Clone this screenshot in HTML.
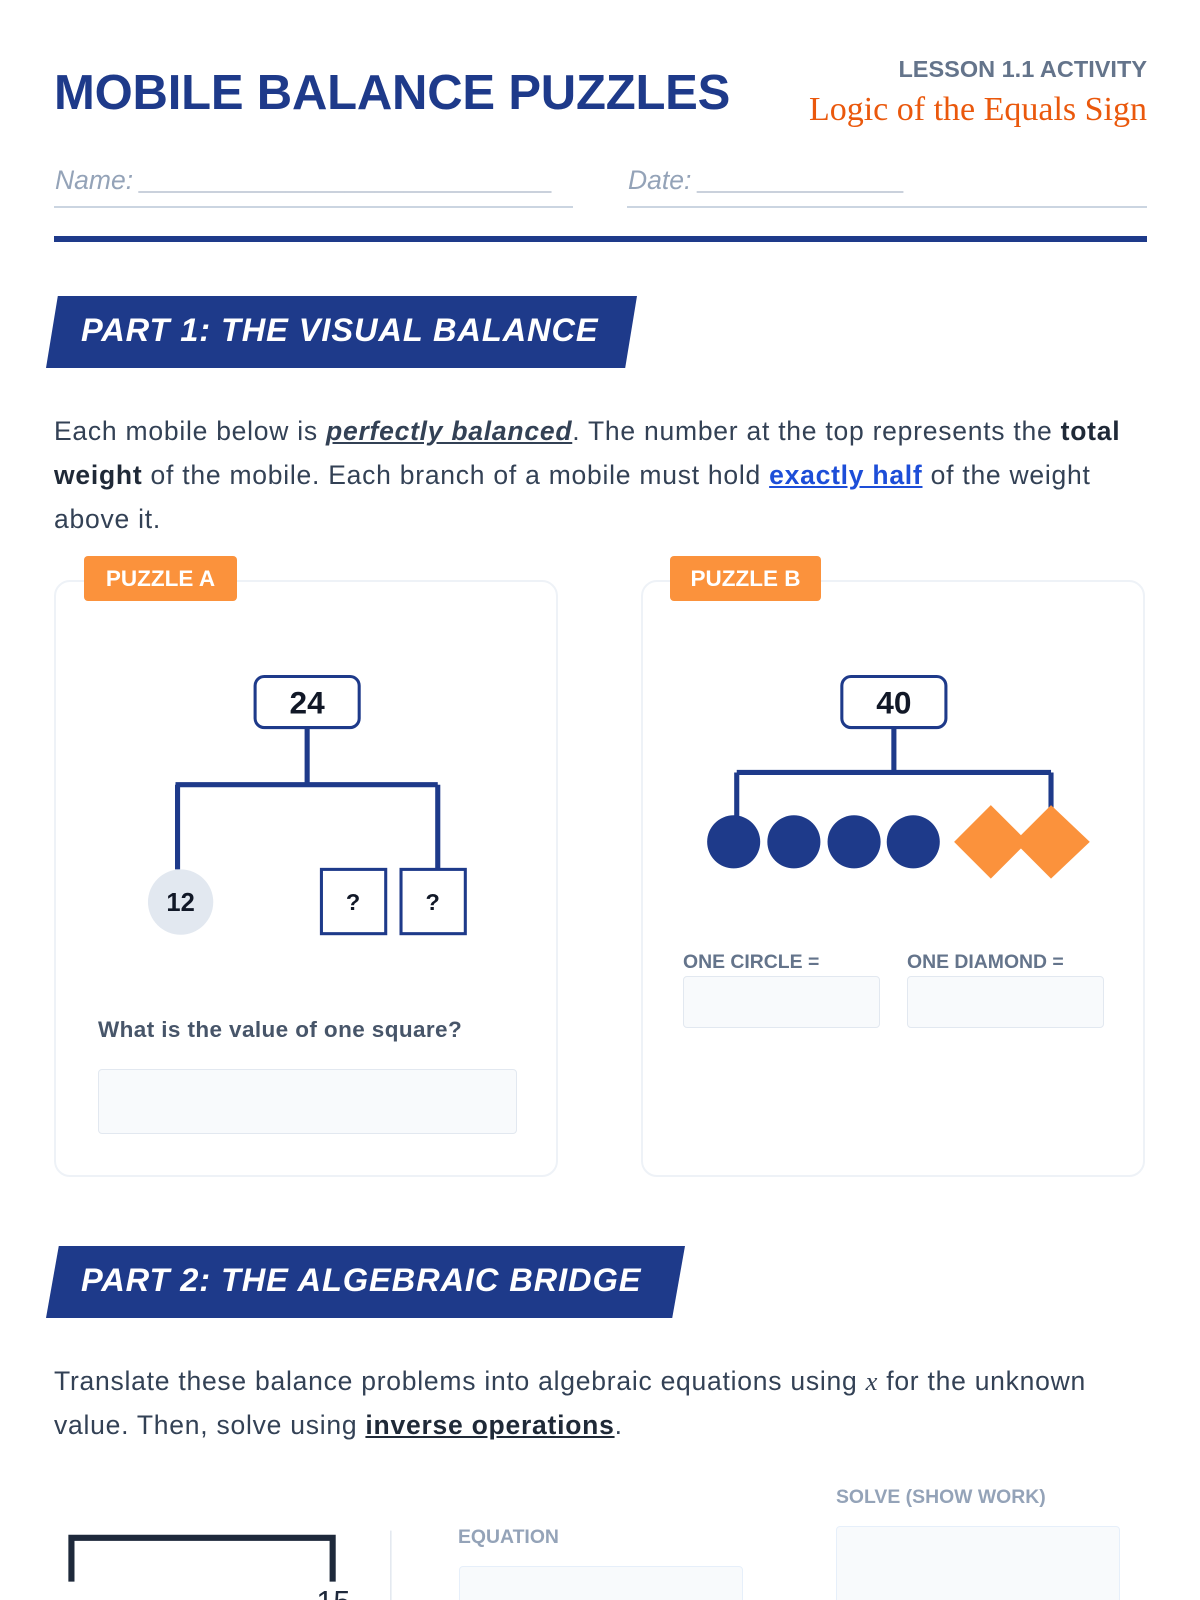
<!DOCTYPE html>
<html><head><meta charset="utf-8"><style>
html,body{margin:0;padding:0;background:#fff;width:1200px;height:1600px;overflow:hidden;position:relative;font-family:"Liberation Sans",sans-serif}
.a{position:absolute;white-space:nowrap}
.banner{position:absolute;background:#1e3a8a;clip-path:polygon(2% 0,100% 0,98% 100%,0 100%)}
.banner span{position:absolute;left:35px;top:15px;color:#fff;font-weight:bold;font-style:italic;font-size:32.6px;letter-spacing:0.9px}
.card{position:absolute;border:2px solid #eef2f7;border-radius:16px;background:#fff}
.badge{position:absolute;background:#fb923c;color:#fff;font-weight:bold;font-size:22.5px;border-radius:4px;text-align:center;line-height:45px}
.inp{position:absolute;background:#f8fafc;border:1.5px solid #e2e8f0;border-radius:4px}
.lbl{position:absolute;color:#64748b;font-weight:bold;font-size:19.4px}
</style></head><body>
<div class="a" style="left:54px;top:65px;font-size:49px;font-weight:bold;color:#1e3a8a;letter-spacing:-0.2px">MOBILE BALANCE PUZZLES</div>
<div class="a" style="right:53px;top:56px;font-size:23.5px;font-weight:bold;color:#64748b">LESSON 1.1 ACTIVITY</div>
<div class="a" style="right:53px;top:91px;font-size:34px;font-family:'Liberation Serif',serif;color:#ea580c">Logic of the Equals Sign</div>
<div class="a" style="left:55px;top:165px;font-size:26.5px;font-style:italic;color:#94a3b8">Name: ____________________________</div>
<div class="a" style="left:628px;top:165px;font-size:26.5px;font-style:italic;color:#94a3b8">Date: ______________</div>
<div class="a" style="left:54px;top:206px;width:519px;height:2px;background:#cbd5e1"></div>
<div class="a" style="left:627px;top:206px;width:520px;height:2px;background:#cbd5e1"></div>
<div class="a" style="left:54px;top:236px;width:1093px;height:6px;background:#1e3a8a"></div>

<div class="banner" style="left:46px;top:296px;width:591px;height:72px"><span>PART 1: THE VISUAL BALANCE</span></div>
<div class="a" style="left:54px;top:409px;font-size:26.5px;line-height:44px;color:#334155;letter-spacing:0.75px">Each mobile below is <b><i><u>perfectly balanced</u></i></b>. The number at the top represents the <b style="color:#1f2937">total</b><br><b style="color:#1f2937">weight</b> of the mobile. Each branch of a mobile must hold <b><u style="color:#1d4ed8">exactly half</u></b> of the weight<br>above it.</div>

<div class="card" style="left:54px;top:580px;width:500px;height:593px"></div>
<div class="badge" style="left:84px;top:556px;width:153px;height:45px">PUZZLE A</div>
<div class="card" style="left:641px;top:580px;width:500px;height:593px"></div>
<div class="badge" style="left:670px;top:556px;width:151px;height:45px">PUZZLE B</div>

<svg class="a" style="left:0;top:0" width="1200" height="1600" viewBox="0 0 1176 1568">
<g stroke="#1e3a8a" stroke-width="5" fill="none">
<path d="M301 713V770M172 769H429M174 769V852M429 769V852"/>
<path d="M876 713V757M722 757H1030M722 757V800M1030 757V800"/>
</g>
<rect x="250" y="663" width="102" height="50" rx="9" fill="#fff" stroke="#1e3a8a" stroke-width="3"/>
<text x="301" y="699" text-anchor="middle" font-family="Liberation Sans" font-weight="bold" font-size="31" fill="#111827">24</text>
<circle cx="177" cy="884" r="32" fill="#e2e8f0"/>
<text x="177" y="893" text-anchor="middle" font-family="Liberation Sans" font-weight="bold" font-size="25" fill="#111827">12</text>
<rect x="315" y="852" width="63" height="63" fill="#fff" stroke="#1e3a8a" stroke-width="3"/>
<rect x="393" y="852" width="63" height="63" fill="#fff" stroke="#1e3a8a" stroke-width="3"/>
<text x="346" y="892" text-anchor="middle" font-family="Liberation Sans" font-weight="bold" font-size="23" fill="#111827">?</text>
<text x="424" y="892" text-anchor="middle" font-family="Liberation Sans" font-weight="bold" font-size="23" fill="#111827">?</text>
<rect x="825" y="663" width="102" height="50" rx="9" fill="#fff" stroke="#1e3a8a" stroke-width="3"/>
<text x="876" y="699" text-anchor="middle" font-family="Liberation Sans" font-weight="bold" font-size="31" fill="#111827">40</text>
<g fill="#1e3a8a"><circle cx="719" cy="825" r="26"/><circle cx="778" cy="825" r="26"/><circle cx="837" cy="825" r="26"/><circle cx="895" cy="825" r="26"/></g>
<g fill="#fb923c"><path d="M971 789L1007 825L971 861L935 825Z"/><path d="M1030 789L1068 825L1030 861L994 825Z"/></g>
<path d="M70 1550V1507H326V1550" stroke="#1e293b" stroke-width="6" fill="none"/>
<line x1="383" y1="1500" x2="383" y2="1568" stroke="#e2e8f0" stroke-width="1.5"/>
<text x="310" y="1580" font-family="Liberation Sans" font-size="30" fill="#1e293b">15</text>
</svg>

<div class="a" style="left:98px;top:1017px;font-size:22.5px;font-weight:bold;color:#475569;letter-spacing:0.4px">What is the value of one square?</div>
<div class="inp" style="left:98px;top:1069px;width:417px;height:63px"></div>
<div class="lbl" style="left:683px;top:951px">ONE CIRCLE =</div>
<div class="inp" style="left:683px;top:976px;width:195px;height:50px"></div>
<div class="lbl" style="left:907px;top:951px">ONE DIAMOND =</div>
<div class="inp" style="left:907px;top:976px;width:195px;height:50px"></div>

<div class="banner" style="left:46px;top:1246px;width:639px;height:72px"><span>PART 2: THE ALGEBRAIC BRIDGE</span></div>
<div class="a" style="left:54px;top:1359px;font-size:26.5px;line-height:44px;color:#334155;letter-spacing:0.75px">Translate these balance problems into algebraic equations using <i style="font-family:'Liberation Serif',serif">x</i> for the unknown<br>value. Then, solve using <b><u style="color:#1f2937">inverse operations</u></b>.</div>

<div class="lbl" style="left:836px;top:1486px;color:#94a3b8">SOLVE (SHOW WORK)</div>
<div class="inp" style="left:836px;top:1526px;width:282px;height:92px;border-color:#e6effa"></div>
<div class="lbl" style="left:458px;top:1526px;color:#94a3b8">EQUATION</div>
<div class="inp" style="left:459px;top:1566px;width:282px;height:60px;border-color:#e6effa"></div>
</body></html>
